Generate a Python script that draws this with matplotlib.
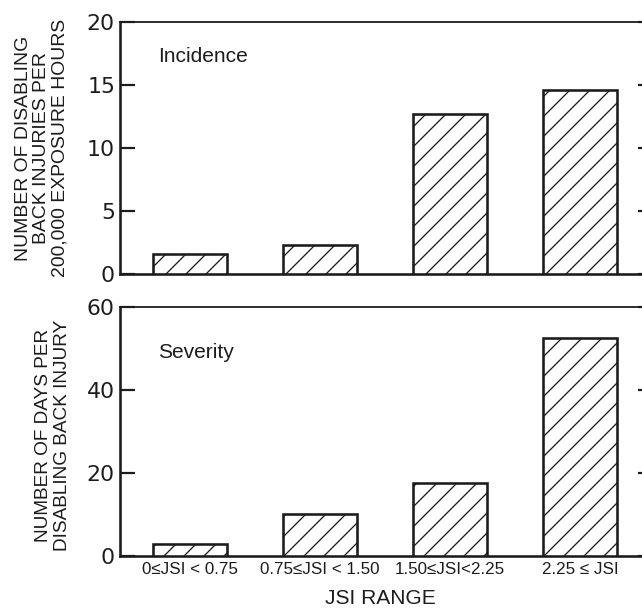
import matplotlib
matplotlib.use("Agg")
import matplotlib.pyplot as plt
from matplotlib.ticker import FixedLocator

# Data
categories = ["0\u2264JSI < 0.75", "0.75\u2264JSI < 1.50", "1.50\u2264JSI<2.25", "2.25 \u2264 JSI"]
incidence = [1.6, 2.3, 12.7, 14.6]
severity = [2.9, 10.1, 17.6, 52.5]
incidence_ticks = [0, 5, 10, 15, 20]
severity_ticks = [0, 20, 40, 60]

DPI = 120
W, H = 642, 608
PT = 72.0 / DPI  # pixels -> points

INK = "#1c1c1c"
plt.rcParams["hatch.linewidth"] = 1.3 * PT
plt.rcParams["hatch.color"] = INK

fig = plt.figure(figsize=(W / DPI, H / DPI), dpi=DPI)
fig.patch.set_facecolor("white")

x_left, x_right = 120, 653


def make_axes(top_px, bottom_px):
    return fig.add_axes([x_left / W, 1 - bottom_px / H,
                         (x_right - x_left) / W, (bottom_px - top_px) / H])


ax1 = make_axes(22, 274)
ax2 = make_axes(307, 556)

xpos = list(range(len(categories)))
xlim = (-0.54, 3.56)
bar_w = 0.57

for ax, vals, ticks in ((ax1, incidence, incidence_ticks), (ax2, severity, severity_ticks)):
    ax.bar(xpos, vals, width=bar_w, facecolor="white", edgecolor=INK,
           linewidth=2.6 * PT, hatch="//", zorder=3)
    ax.set_xlim(*xlim)
    ax.set_ylim(ticks[0], ticks[-1])
    ax.yaxis.set_major_locator(FixedLocator(ticks))
    ax.set_yticklabels([str(t) for t in ticks], fontsize=22 * PT,
                       family="DejaVu Sans", color=INK)
    ax.tick_params(axis="y", direction="in", length=15 * PT, width=2.2 * PT,
                   pad=5 * PT, right=True, color=INK)
    ax.tick_params(axis="x", length=0)
    for side in ("left", "bottom"):
        ax.spines[side].set_linewidth(2.6 * PT)
        ax.spines[side].set_color(INK)
    ax.spines["top"].set_linewidth(1.8 * PT)
    ax.spines["top"].set_color(INK)
    ax.spines["right"].set_visible(False)

ax1.set_xticks([])
ax2.set_xticks(xpos)
ax2.set_xticklabels(categories, fontsize=17 * PT, family="Liberation Sans", color=INK)
ax2.tick_params(axis="x", pad=6 * PT)

# panel titles inside the axes
fig.text(158 / W, 1 - 56 / H, "Incidence", fontsize=21 * PT, family="Liberation Sans",
         color=INK, ha="left", va="center")
fig.text(158 / W, 1 - 352 / H, "Severity", fontsize=21 * PT, family="Liberation Sans",
         color=INK, ha="left", va="center")

# y-axis titles
fig.text(42 / W, 1 - 148 / H,
         "NUMBER OF DISABLING\nBACK INJURIES PER\n200,000 EXPOSURE HOURS",
         rotation=90, fontsize=19.4 * PT, family="Liberation Sans", color=INK,
         ha="center", va="center", multialignment="center", linespacing=1.1)
fig.text(53 / W, 1 - 435 / H,
         "NUMBER OF DAYS PER\nDISABLING BACK INJURY",
         rotation=90, fontsize=19 * PT, family="Liberation Sans", color=INK,
         ha="center", va="center", multialignment="center", linespacing=1.1)

# x-axis title
fig.text(380 / W, 1 - 598 / H, "JSI RANGE", fontsize=21 * PT, family="Liberation Sans",
         color=INK, ha="center", va="center")

fig.savefig("out.png", dpi=DPI, facecolor="white")
